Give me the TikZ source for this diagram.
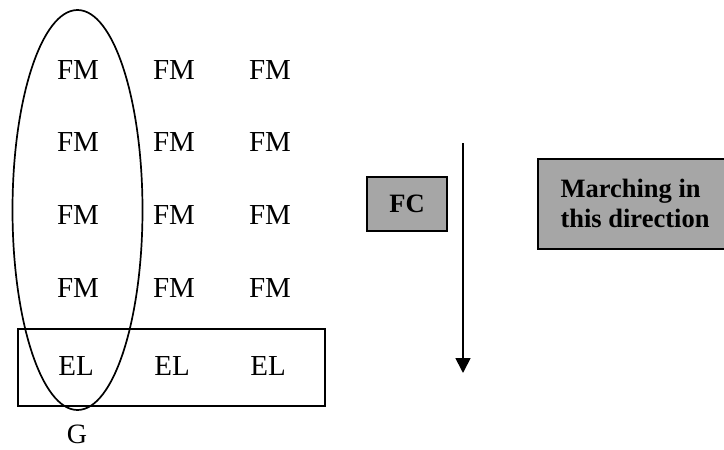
\documentclass[tikz,border=0pt]{standalone}
\usepackage{fontspec}
\setmainfont{Liberation Serif}
\usetikzlibrary{arrows.meta}
\begin{document}
\begin{tikzpicture}[x=1pt,y=-1pt,
  cell/.style={font=\fontsize{29}{32}\selectfont, inner sep=0pt},
  graybox/.style={draw=black, line width=2pt, fill=black!35, inner sep=0pt},
  bold/.style={font=\fontsize{26.5}{30}\selectfont\bfseries}
]
\useasboundingbox (0,0) rectangle (724,450);
% grid of labels
\foreach \r/\y in {1/70,2/142,3/215,4/288}{
  \node[cell] (fm\r a) at (78,\y) {FM};
  \node[cell] (fm\r b) at (174,\y) {FM};
  \node[cell] (fm\r c) at (270,\y) {FM};
}
\node[cell] (ela) at (76,366) {EL};
\node[cell] (elb) at (172,366) {EL};
\node[cell] (elc) at (268,366) {EL};
\node[cell, font=\fontsize{28}{30}\selectfont, text depth=0pt, anchor=base] (g) at (77,443) {G};
% ellipse and rectangle
\draw[line width=1.7pt] (77.5,210) ellipse [x radius=65, y radius=200];
\node[draw, line width=1.7pt, minimum width=307pt, minimum height=77pt, inner sep=0pt] (row) at (171.5,367.5) {};
% FC box
\node[graybox, minimum width=80pt, minimum height=54pt] (fc) at (407,204) {};
\node[bold] at (fc.center) {FC};
% arrow
\coordinate (atop) at (463,143);
\coordinate (abot) at (463,373);
\draw[line width=1.7pt, -{Triangle[width=15pt,length=15pt]}] (atop) -- (abot);
% marching box
\node[graybox, minimum width=190pt, minimum height=90pt, anchor=north west] (mb) at (537,158) {};
\node[bold, align=left, anchor=west] (mt) at (557,203) {Marching in\\this direction};
\end{tikzpicture}
\end{document}
